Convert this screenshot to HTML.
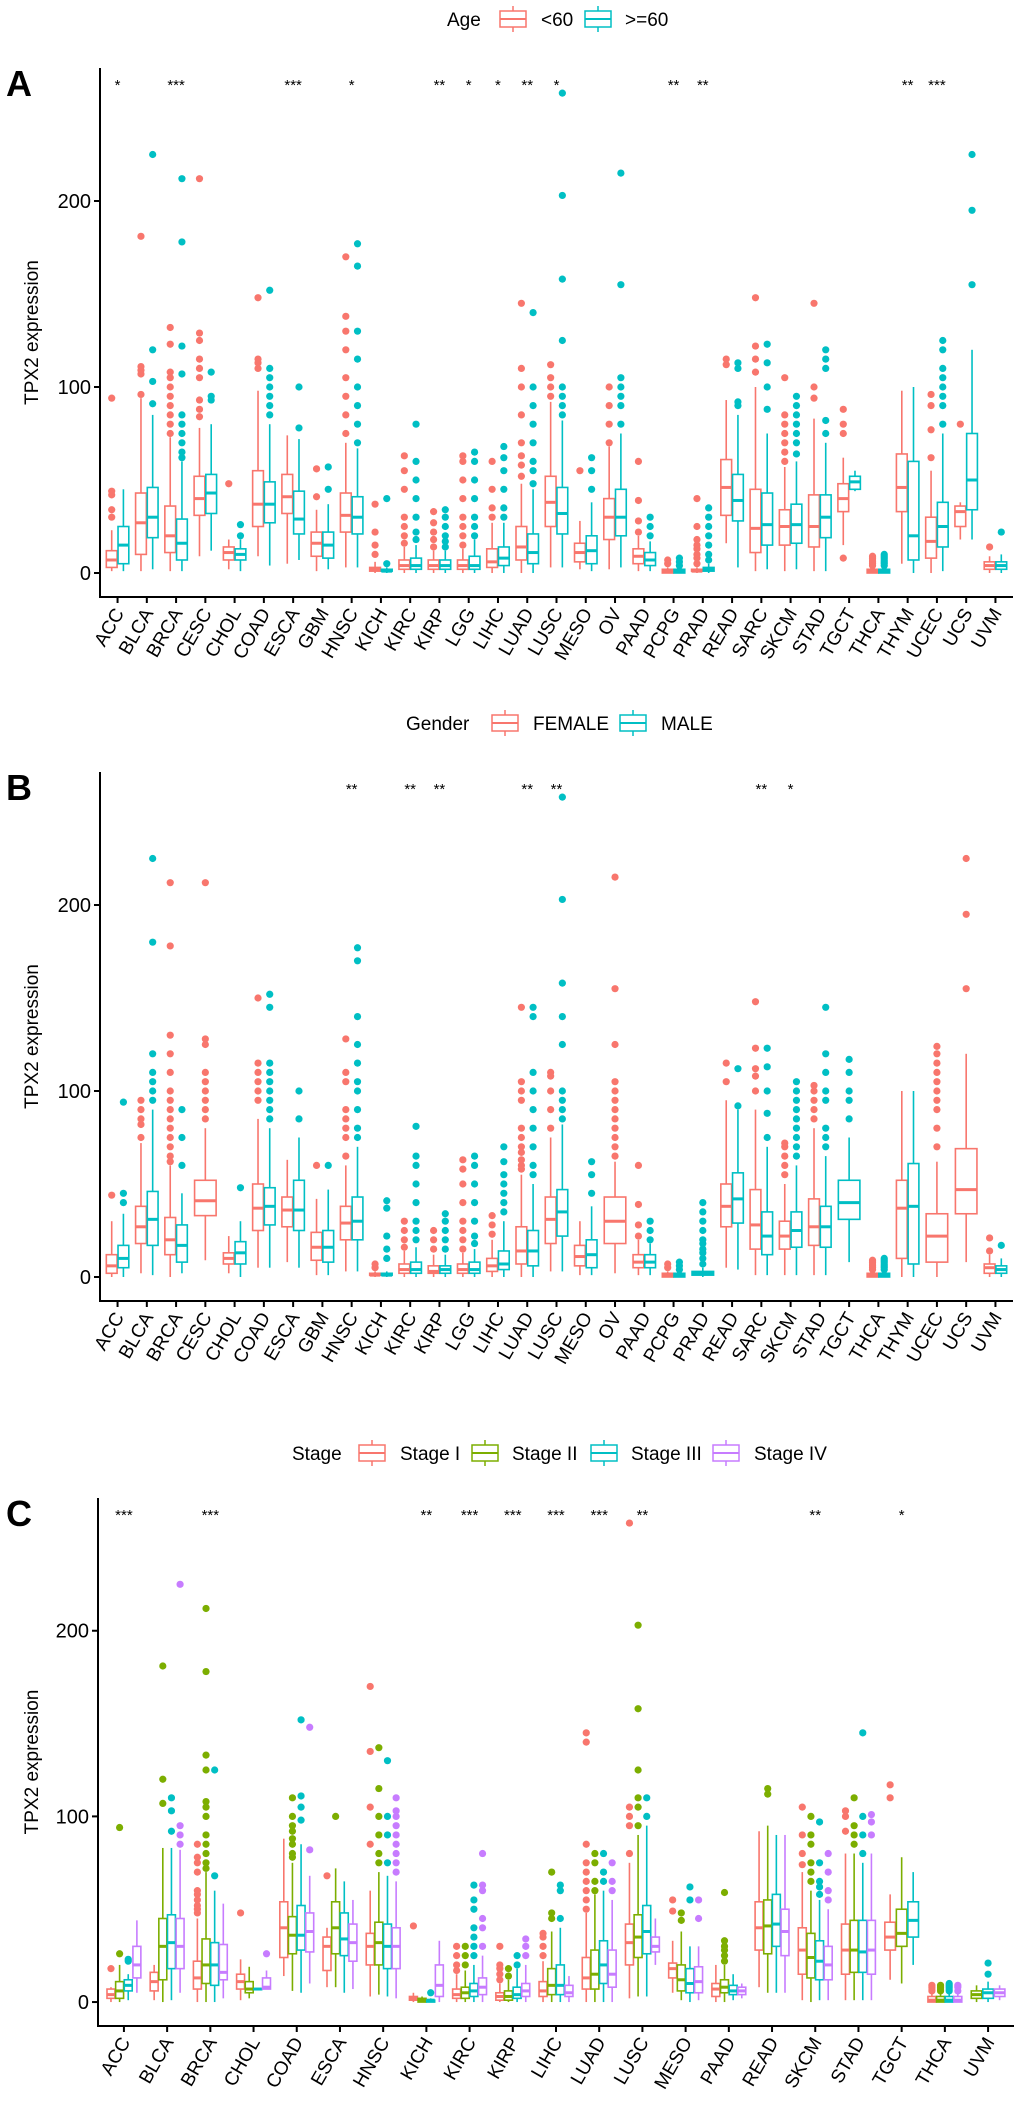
<!DOCTYPE html>
<html><head><meta charset="utf-8"><style>
html,body{margin:0;padding:0;background:#fff}
svg{display:block;font-family:"Liberation Sans",Arial,sans-serif}
</style></head><body>
<svg id="fig" width="1020" height="2105" viewBox="0 0 1020 2105" xmlns="http://www.w3.org/2000/svg"></svg>
<script>
// ---------- Panel A: Age ----------
const A_cats = ["ACC","BLCA","BRCA","CESC","CHOL","COAD","ESCA","GBM","HNSC","KICH","KIRC","KIRP","LGG","LIHC","LUAD","LUSC","MESO","OV","PAAD","PCPG","PRAD","READ","SARC","SKCM","STAD","TGCT","THCA","THYM","UCEC","UCS","UVM"];
const A_lt60_box = [[1,3,7,12,23],[1,10,27,43,94],[1,11,20,36,73],[9,31,40,52,78],[2,7,11,14,18],[9,25,37,55,98],[5,32,41,53,74],[1,9,16,22,34],[3,22,31,43,70],[0,1,2,3,6],[0,2,4,7,14],[0,2,4,7,12],[0,2,4,7,13],[0,3,6,13,27],[0,7,14,25,48],[3,25,38,52,92],[2,6,11,16,28],[2,18,30,40,68],[1,5,9,13,20],[0,0,1,2,3],[0,1,1,2,3],[16,31,46,61,93],[1,11,24,45,100],[1,15,25,34,57],[1,14,25,42,83],[15,33,40,48,62],[0,0,1,2,3],[5,33,46,64,98],[0,8,17,30,55],[18,25,33,36,38],[0,2,4,6,9]];
const A_lt60_out = [[30,34,42,44,94],[96,107,109,111,181],[75,80,85,90,95,100,105,108,123,132],[84,88,93,105,110,115,125,129,212],[48],[110,113,115,148],[],[41,56],[75,85,95,105,120,130,138,170],[10,15,22,37],[16,20,25,30,45,55,63],[14,18,22,27,33],[15,20,25,30,40,50,60,63],[30,35,45,60],[52,58,63,70,85,100,110,145],[95,100,105,112],[55],[70,80,90,100],[22,28,39,60],[5,7],[5,8,10,13,15,18,25,40],[112,115],[108,115,122,148],[60,65,70,75,80,85,105],[94,100,145],[8,75,80,88],[4,5,6,7,8,9],[],[62,77,90,96],[80],[14]];
const A_ge60_box = [[1,5,15,25,45],[2,19,30,46,85],[1,7,16,29,60],[12,32,43,53,80],[1,7,10,13,18],[4,27,37,49,80],[7,21,29,44,72],[2,8,15,22,37],[3,21,30,41,67],[0,1,1,2,3],[0,2,4,8,15],[0,2,4,7,12],[0,2,4,9,18],[0,4,8,14,27],[0,5,11,21,45],[3,21,32,46,82],[1,5,12,20,38],[3,20,30,45,75],[1,4,7,11,17],[0,0,1,2,3],[0,1,2,3,5],[3,28,39,53,85],[2,15,26,43,75],[2,16,26,37,60],[1,19,30,42,70],[44,45,49,52,55],[0,0,1,2,3],[0,7,20,60,100],[1,14,25,38,75],[18,34,50,75,120],[0,2,4,6,10]];
const A_ge60_out = [[],[91,103,120,225],[62,65,70,75,80,85,107,122,178,212],[93,95,108],[20,26],[85,90,95,100,105,110,152],[78,100],[45,57],[70,80,90,100,115,130,165,177],[5,40],[18,22,30,40,50,60,80],[14,17,20,25,30,34],[20,25,30,40,50,60,65],[30,35,45,55,62,68],[48,55,60,70,80,90,100,140],[85,90,95,100,125,158,203,258],[45,55,62],[80,90,95,100,105,155,215],[20,25,30],[4,6,8],[7,10,15,20,25,30,35],[90,92,110,113],[88,100,113,123],[64,70,75,80,85,90,95],[75,82,110,115,120],[],[4,5,6,7,8,9,10],[],[80,90,95,100,105,110,120,125],[155,195,225],[22]];
const A_stars = ["*","","***","","","","***","","*","","","**","*","*","**","*","","","","**","**","","","","","","","**","***","",""];

// ---------- Panel B: Gender ----------
const B_cats = A_cats.slice();
const B_female_box = [[0,2,6,12,30],[2,18,27,38,72],[0,12,20,32,60],[9,33,41,52,80],[2,7,10,13,22],[5,25,37,50,85],[8,27,36,43,63],[1,9,16,24,42],[3,20,29,38,60],[0,1,1,2,3],[0,2,4,7,14],[0,2,3,6,12],[0,2,4,7,13],[0,3,6,10,20],[0,7,14,27,55],[3,18,31,43,75],[1,6,11,17,30],[2,18,30,43,62],[1,5,8,12,20],[0,0,1,2,3],null,[5,27,38,50,95],[1,15,28,47,90],[1,15,22,30,50],[1,17,27,42,80],null,[0,0,1,2,3],[0,10,37,52,100],[0,8,22,34,62],[8,34,47,69,120],[0,2,5,7,12]];
const B_female_out = [[44],[75,82,85,90,95],[62,65,70,75,80,85,90,95,100,110,120,130,178,212],[85,90,95,100,105,110,125,128,212],[],[95,100,105,110,115,150],[],[60],[65,75,80,85,90,105,110,128],[5,7],[16,20,25,30],[15,20,25],[15,20,25,30,40,50,58,63],[23,28,33],[58,60,63,67,70,75,80,95,100,105,145],[80,90,100,108,110],[],[65,70,75,80,85,90,95,100,105,125,155,215],[22,28,39,60],[5,7],[],[105,115],[100,108,112,123,148],[55,60,65,70,72],[85,90,95,100,103],[],[4,5,6,7,8,9],[],[70,80,90,95,100,105,110,115,120,124],[155,195,225],[14,21]];
const B_male_box = [[0,5,10,17,34],[1,17,31,46,90],[2,8,17,28,45],null,[0,7,13,19,30],[5,28,38,48,80],[5,25,36,52,75],[1,8,16,25,47],[3,20,30,43,70],[0,1,1,2,3],[0,2,4,8,16],[0,2,4,6,12],[0,2,4,8,15],[0,4,7,14,30],[0,6,14,25,50],[3,22,35,47,82],[1,5,12,20,38],null,[1,5,8,12,18],[0,0,1,2,3],[0,1,2,3,5],[4,29,42,56,90],[1,12,22,35,70],[1,16,25,35,60],[1,16,27,38,65],[8,31,40,52,75],[0,0,1,2,3],[0,7,38,61,100],null,null,[0,2,4,6,10]];
const B_male_out = [[40,45,94],[95,100,105,110,120,180,225],[60,75,90],[],[48],[85,90,95,100,105,110,115,145,152],[85,100],[60],[75,80,90,100,105,115,125,140,170,177],[10,15,22,37,41],[20,25,30,40,50,60,65,81],[15,20,25,30,34],[18,22,30,40,50,60,65],[35,40,45,50,55,62,70],[55,60,70,80,90,100,110,140,145],[85,90,95,100,125,140,158,203,258],[45,55,62],[],[20,25,30],[4,6,8],[7,10,13,15,18,20,25,30,35,40],[92,112],[75,88,100,113,123],[65,70,75,80,85,90,95,100,105],[70,75,80,95,100,110,120,145],[85,95,100,110,117],[4,5,6,7,8,9,10],[],[],[],[17]];
const B_stars = ["","","","","","","","","**","","**","**","","","**","**","","","","","","","**","*","","","","","","",""];

// ---------- Panel C: Stage ----------
const C_cats = ["ACC","BLCA","BRCA","CHOL","COAD","ESCA","HNSC","KICH","KIRC","KIRP","LIHC","LUAD","LUSC","MESO","PAAD","READ","SKCM","STAD","TGCT","THCA","UVM"];
const C_s1_box = [[0,2,4,7,8],[1,6,11,16,20],[0,7,13,22,45],[1,7,11,15,23],[14,24,40,54,88],[8,17,30,35,40],[3,20,30,37,60],[0,1,2,3,5],[0,2,4,7,15],[0,1,3,5,10],[0,3,6,11,22],[0,7,13,24,48],[2,20,32,42,75],[5,13,18,21,33],[0,3,7,10,20],[8,28,40,54,92],[1,15,28,40,70],[1,15,28,42,80],[12,28,35,43,58],[0,0,1,3,5],null];
const C_s1_out = [[18],[],[48,50,52,55,58,60,70,75,78,85],[48],[],[68],[85,105,135,170],[41],[17,20,25,30],[12,15,18,20,30],[25,30,35,37],[50,55,60,65,70,75,85,140,145],[80,95,100,105,258],[49,55],[],[],[74,80,90,105],[92,100,103],[110,117],[6,7,8,9],[]];
const C_s2_box = [[0,2,6,11,20],[0,12,30,45,83],[0,10,20,34,70],[2,5,7,11,19],[6,26,36,46,75],[8,26,40,54,72],[4,20,32,43,70],[0,0,1,2,3],[0,2,5,8,17],[0,1,3,6,12],[0,4,9,18,38],[0,7,15,28,58],[3,24,35,47,90],[1,6,12,20,38],[0,5,8,12,20],[5,26,41,55,95],[0,13,24,37,60],[1,16,28,44,80],[10,30,37,50,78],[0,0,1,3,5],[0,2,4,6,9]];
const C_s2_out = [[26,94],[107,120,181],[72,75,80,85,90,100,105,108,125,133,178,212],[],[78,80,85,88,92,95,100,110],[100],[75,80,90,100,115,137],[],[20,25,30],[14,18],[45,48,70],[60,65,75,80],[95,105,110,125,158,203],[44,48],[22,25,28,30,33,59],[112,115],[65,70,75,85,90,100],[85,90,95,110],[],[6,7,8,9],[]];
const C_s3_box = [[1,6,9,12,15],[1,18,32,47,83],[0,9,20,32,60],[7,7,7,7,7],[5,28,36,52,85],[5,25,34,48,65],[3,18,30,42,68],[0,0,1,1,2],[0,3,6,10,20],[0,2,4,8,18],[0,4,9,20,40],[0,10,20,33,60],[3,26,38,52,95],[0,5,10,18,30],[1,4,6,9,15],[5,30,42,58,90],[1,12,22,33,55],[1,16,27,44,75],[20,35,44,54,70],[0,0,1,3,5],[0,2,5,7,11]];
const C_s3_out = [[22,23],[92,103,110],[68,125],[],[98,105,111,152],[],[75,90,100,130],[5],[25,30,35,40,50,55,63],[20,25],[45,60,63],[65,70,80],[100,110],[55,62],[],[],[58,62,65,75,97],[80,90,100,145],[],[6,7,8,9,10],[15,21]];
const C_s4_box = [[5,13,20,30,44],[5,18,30,45,82],[2,12,16,31,53],[7,7,8,13,17],[10,27,38,48,68],[7,22,32,42,55],[2,18,30,40,65],[0,3,9,20,33],[0,4,8,13,25],[0,3,6,10,20],[0,3,5,9,14],[0,8,15,28,55],[20,27,30,35,45],[1,5,11,19,30],[2,4,6,8,10],[5,25,38,50,90],[1,12,20,30,50],[1,15,28,44,80],null,[0,0,1,3,5],[1,3,5,7,9]];
const C_s4_out = [[],[85,90,95,225],[],[26],[82,148],[],[70,75,80,85,90,95,100,103,110],[],[30,40,45,60,63,80],[25,30,34],[],[60,65,75],[],[45,55],[],[],[55,60,70,80],[90,97,101],[],[6,8,9],[]];
const C_stars = ["***","","***","","","","","**","***","***","***","***","**","","","","**","","*","",""];

const yTicks = [0,100,200];
const NS = "http://www.w3.org/2000/svg";
const svg = document.getElementById("fig");
function el(tag, attrs, parent){
  const e = document.createElementNS(NS, tag);
  for (const k in attrs) e.setAttribute(k, attrs[k]);
  (parent||svg).appendChild(e);
  return e;
}

function drawPanel(P){
  const g = el("g", {});
  
  
  const yMin = -12.9, yMax = 271.5;
  const y = v => P.axisBottom - (v - yMin) / (yMax - yMin) * (P.axisBottom - P.axisTop);
  const n = P.cats.length;
  const step = (P.right - P.left) / (n + 0.2);
  const x = i => P.left + (i + 0.6) * step;
  const groupW = step * 0.8;

  // panel letter
  const L = el("text", {x: 6, y: P.axisTop + 28, "font-size": 36, "font-weight": "bold", fill: "#000"}, g);
  L.textContent = P.letter;
  
  

  // legend
  const lg = el("g", {}, g);
  
  
  const lt = el("text", {x: P.legend.titleX, y: P.legend.y + 7, "font-size": 19, fill: "#000"}, lg);
  lt.textContent = P.legend.title;
  
  
  P.series.forEach((s, k) => {
    const ix = P.legend.iconX[k], cy = P.legend.y;
    const ent = el("g", {}, lg);
    
    
    el("line", {x1: ix + 13, x2: ix + 13, y1: cy - 13, y2: cy + 13, stroke: s.color, "stroke-width": 1.5}, ent);
    el("rect", {x: ix, y: cy - 8, width: 26, height: 16, fill: "#fff", stroke: s.color, "stroke-width": 1.5}, ent);
    el("line", {x1: ix, x2: ix + 26, y1: cy, y2: cy, stroke: s.color, "stroke-width": 2}, ent);
    const t = el("text", {x: P.legend.textX[k], y: cy + 7, "font-size": 19, fill: "#000"}, ent);
    t.textContent = s.label;
  });

  // boxes
  P.cats.forEach((c, i) => {
    const present = P.series.map((s, k) => k).filter(k => P.series[k].box[i]);
    const m = present.length;
    const w = groupW / m;
    present.forEach((k, j) => {
      const s = P.series[k];
      const b = s.box[i];
      const cx = x(i) - groupW / 2 + w * (j + 0.5);
      const bw = w * 0.92;
      const bg = el("g", {}, g);
      
      
      s.out[i].forEach(v => {
        el("circle", {cx: cx, cy: y(v), r: 3.6, fill: s.color}, bg);
      });
      el("line", {x1: cx, x2: cx, y1: y(b[4]), y2: y(b[3]), stroke: s.color, "stroke-width": 1.6}, bg);
      el("line", {x1: cx, x2: cx, y1: y(b[1]), y2: y(b[0]), stroke: s.color, "stroke-width": 1.6}, bg);
      el("rect", {x: cx - bw / 2, y: y(b[3]), width: bw, height: Math.max(0.5, y(b[1]) - y(b[3])), fill: "#fff", stroke: s.color, "stroke-width": 1.6}, bg);
      el("line", {x1: cx - bw / 2, x2: cx + bw / 2, y1: y(b[2]), y2: y(b[2]), stroke: s.color, "stroke-width": 3}, bg);
    });
    if (P.stars[i]) {
      const st = el("text", {x: x(i), y: P.axisTop + 22, "font-size": 15, "text-anchor": "middle", fill: "#000"}, g);
      st.textContent = P.stars[i];
      
      
    }
  });

  // axes
  const ax = el("g", {}, g);
  
  
  el("line", {x1: P.left, x2: P.left, y1: P.axisTop, y2: P.axisBottom + 1, stroke: "#000", "stroke-width": 2}, ax);
  yTicks.forEach(v => {
    el("line", {x1: P.left - 6, x2: P.left, y1: y(v), y2: y(v), stroke: "#000", "stroke-width": 2}, ax);
    const t = el("text", {x: P.left - 9, y: y(v) + 7, "font-size": 20, "text-anchor": "end", fill: "#000"}, ax);
    t.textContent = v;
  });
  const yt = el("text", {x: 0, y: 0, "font-size": 19, "text-anchor": "middle", fill: "#000",
    transform: `translate(38,${(P.axisTop + P.axisBottom) / 2}) rotate(-90)`}, g);
  yt.textContent = "TPX2 expression";
  
  

  const xa = el("g", {}, g);
  
  
  el("line", {x1: P.left - 1, x2: P.right, y1: P.axisBottom, y2: P.axisBottom, stroke: "#000", "stroke-width": 2}, xa);
  P.cats.forEach((c, i) => {
    el("line", {x1: x(i), x2: x(i), y1: P.axisBottom, y2: P.axisBottom + 6, stroke: "#000", "stroke-width": 2}, xa);
    const t = el("text", {x: 0, y: 0, "font-size": 19, "text-anchor": "end", fill: "#000",
      transform: `translate(${x(i) + 7},${P.axisBottom + 16}) rotate(-60)`}, xa);
    t.textContent = c;
  });
}

drawPanel({name: "panel-a-age", letter: "A", cats: A_cats, stars: A_stars,
  left: 100, right: 1013, axisTop: 68, axisBottom: 597,
  legend: {title: "Age", y: 19, titleX: 447, iconX: [500, 585], textX: [541, 625]},
  series: [{key: "lt60", label: "<60", color: "#F8766D", box: A_lt60_box, out: A_lt60_out},
           {key: "ge60", label: ">=60", color: "#00BFC4", box: A_ge60_box, out: A_ge60_out}]});

drawPanel({name: "panel-b-gender", letter: "B", cats: B_cats, stars: B_stars,
  left: 100, right: 1013, axisTop: 772, axisBottom: 1301,
  legend: {title: "Gender", y: 723, titleX: 406, iconX: [492, 620], textX: [533, 661]},
  series: [{key: "female", label: "FEMALE", color: "#F8766D", box: B_female_box, out: B_female_out},
           {key: "male", label: "MALE", color: "#00BFC4", box: B_male_box, out: B_male_out}]});

drawPanel({name: "panel-c-stage", letter: "C", cats: C_cats, stars: C_stars,
  left: 98, right: 1014, axisTop: 1498, axisBottom: 2026,
  legend: {title: "Stage", y: 1453, titleX: 292, iconX: [359, 472, 591, 713], textX: [400, 512, 631, 754]},
  series: [{key: "stage-i", label: "Stage I", color: "#F8766D", box: C_s1_box, out: C_s1_out},
           {key: "stage-ii", label: "Stage II", color: "#7CAE00", box: C_s2_box, out: C_s2_out},
           {key: "stage-iii", label: "Stage III", color: "#00BFC4", box: C_s3_box, out: C_s3_out},
           {key: "stage-iv", label: "Stage IV", color: "#C77CFF", box: C_s4_box, out: C_s4_out}]});
</script>
</body></html>
